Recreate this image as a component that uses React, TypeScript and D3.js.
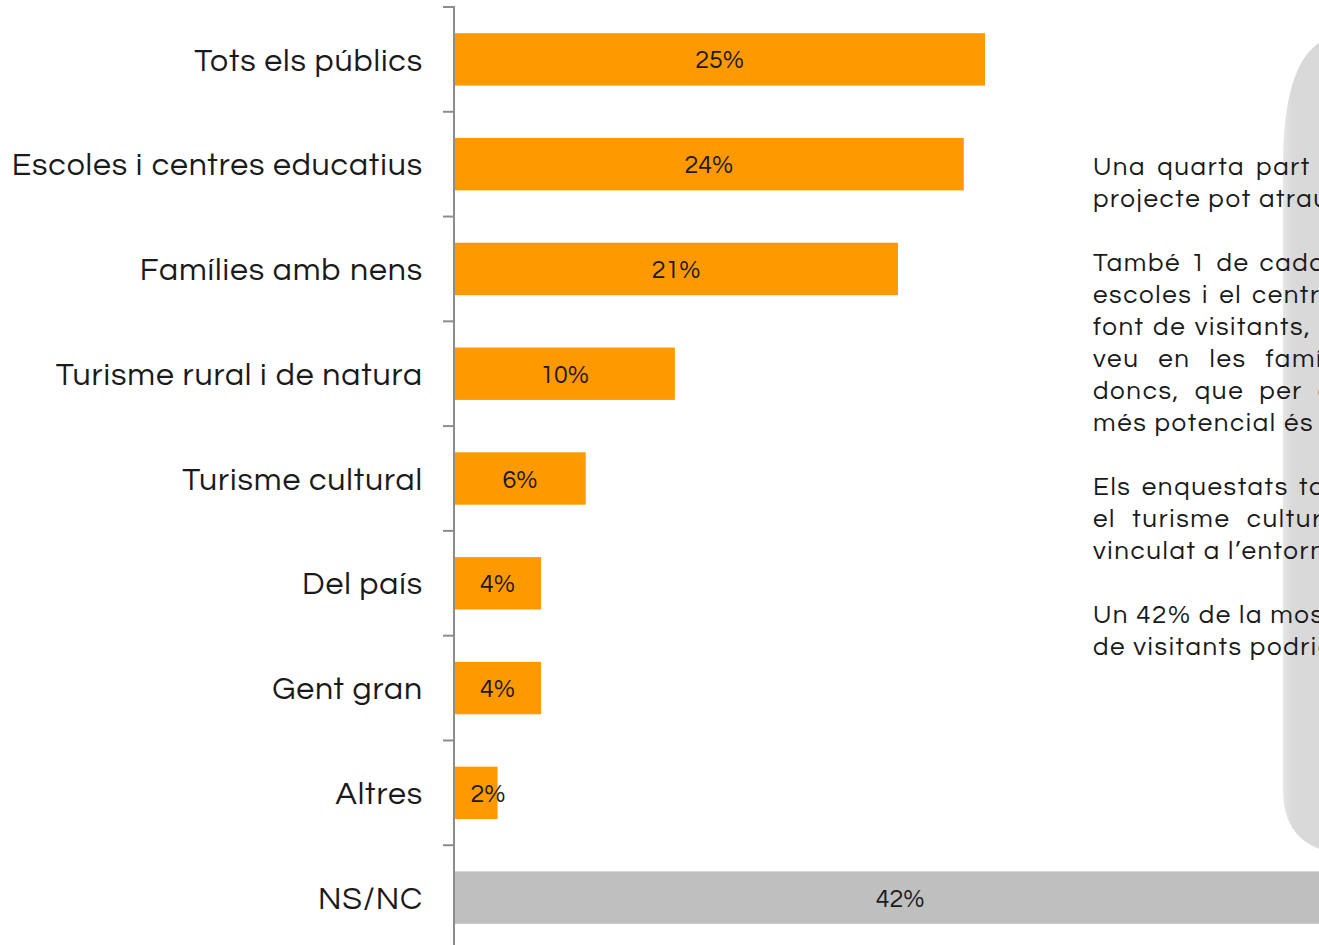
import * as d3 from "d3";

const categories = [
  "Tots els públics",
  "Escoles i centres educatius",
  "Famílies amb nens",
  "Turisme rural i de natura",
  "Turisme cultural",
  "Del país",
  "Gent gran",
  "Altres",
  "NS/NC",
];
const values = [25, 24, 20.9, 10.4, 6.2, 4.1, 4.1, 2.05, 42];
const valueLabels = ["25%", "24%", "21%", "10%", "6%", "4%", "4%", "2%", "42%"];
const greyCategory = "NS/NC";

// text box on the right (clipped by the page edge)
const notes = [
  ["Una quarta part dels enquestats creu que el", "projecte pot atraure tots els públics."],
  [
    "També 1 de cada 4 enquestats creu que les",
    "escoles i el centres educatius serien una",
    "font de visitants, així com també ho",
    "veu en les famílies amb nens. Sembla",
    "doncs, que per als enquestats el públic amb",
    "més potencial és el familiar i escolar.",
  ],
  [
    "Els enquestats també assenyalen",
    "el turisme cultural i el turisme",
    "vinculat a l’entorn natural.",
  ],
  ["Un 42% de la mostra no sap quin tipus", "de visitants podria atraure el projecte."],
];
const justifiedGap = [
  [0.15, 0],
  [0.1, 0.1, 0.05, 0.45, 0.3, 0],
  [0.12, 0.35, 0],
  [0, 0],
];

const W = 1319;
const H = 945;
const font = "'Century Gothic', 'Questrial', 'DejaVu Sans', sans-serif";

const App = () => {
  const x0 = 454;
  const pxPerPct = 21.24;
  const xScale = d3.scaleLinear().domain([0, 1]).range([x0, x0 + pxPerPct]);
  const yScale = d3
    .scaleBand()
    .domain(categories)
    .range([7, 950])
    .paddingInner(0.5)
    .paddingOuter(0.25);
  const step = yScale.step();
  const tickYs = d3.range(categories.length + 1).map((i) => 7 + i * step);

  let lineY = 175;
  const noteLines: { t: string; y: number; gap: number }[] = [];
  notes.forEach((para, pi) => {
    para.forEach((t, li) => {
      noteLines.push({ t, y: lineY, gap: justifiedGap[pi][li] });
      lineY += 32;
    });
    lineY += 32;
  });

  return (
    <svg
      width={W}
      height={H}
      viewBox={`0 0 ${W} ${H}`}
      style={{ position: "fixed", left: 0, top: 0, background: "#fff" }}
      fontFamily={font}
    >
      <defs>
        <linearGradient id="boxEdge" x1="0" x2="1" y1="0" y2="0">
          <stop offset="0" stopColor="#e6e6e6" />
          <stop offset="0.08" stopColor="#d9d9d9" />
          <stop offset="1" stopColor="#d9d9d9" />
        </linearGradient>
      </defs>
      <path
        d="M1340,35 Q1283,42 1283,165 L1283,790 Q1283,842 1330,852 L1400,852 L1400,35 Z"
        fill="url(#boxEdge)"
      />

      <g className="notes" fontSize={26} fill="#1a1a1a" letterSpacing={1.6}>
        {noteLines.map((l, i) => (
          <text key={i} x={1093} y={l.y} wordSpacing={`${l.gap}em`}>
            {l.t}
          </text>
        ))}
      </g>

      <g className="bars">
        {categories.map((c, i) => (
          <rect
            key={c}
            x={xScale(0)}
            y={yScale(c)}
            width={xScale(values[i]) - xScale(0)}
            height={yScale.bandwidth()}
            fill={c === greyCategory ? "#bfbfbf" : "#ff9900"}
          />
        ))}
      </g>

      <g className="value-labels" fontSize={25} fill="#1a1a1a" textAnchor="middle">
        {categories.map((c, i) => {
          const cx = Math.max((xScale(0) + xScale(values[i])) / 2, xScale(0) + 34);
          return (
            <text key={c} x={cx} y={(yScale(c) ?? 0) + yScale.bandwidth() / 2} dy="0.36em">
              {valueLabels[i]}
            </text>
          );
        })}
      </g>

      <g className="y-axis" stroke="#8c8c8c" strokeWidth={2}>
        <line x1={x0} x2={x0} y1={6} y2={H} />
        {tickYs.map((ty) => (
          <line key={ty} x1={x0 - 11} x2={x0} y1={ty} y2={ty} />
        ))}
      </g>

      <g className="cat-labels" fontSize={32} fill="#1a1a1a" textAnchor="end" letterSpacing={0.9}>
        {categories.map((c) => (
          <text key={c} x={423} y={(yScale(c) ?? 0) + yScale.bandwidth() / 2} dy="0.35em">
            {c}
          </text>
        ))}
      </g>
    </svg>
  );
};

export default App;
